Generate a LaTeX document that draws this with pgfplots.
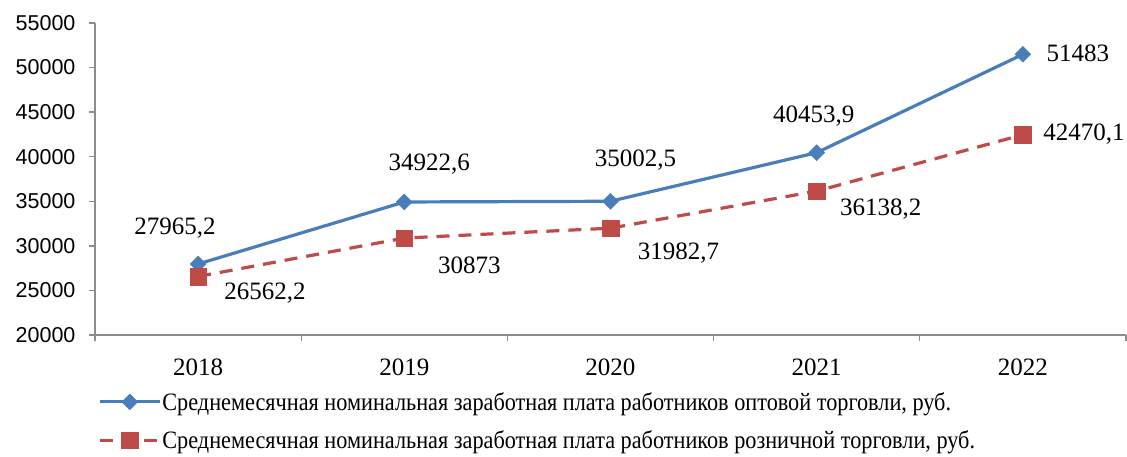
\documentclass[border=0pt]{standalone}
\usepackage{fontspec}
\setmainfont{Liberation Serif}
\newfontfamily\tickfont{Liberation Sans}
\newfontfamily\legfont[FakeStretch=0.89]{Liberation Serif}
\usepackage{pgfplots}
\usepackage{pgfplotstable}
\pgfplotsset{compat=1.18}
\definecolor{bluel}{HTML}{4A7EBB}
\definecolor{redl}{HTML}{BE4B48}
\definecolor{axgray}{HTML}{8C8C8C}

\pgfplotstableread{
x y lbl dx dy
0 27965.2 27965,2 -23 36
1 34922.6 34922,6 25 38
2 35002.5 35002,5 25 41
3 40453.9 40453,9 -3 37
4 51483 51483 55 1
}\opt
\pgfplotstableread{
x y lbl dx dy
0 26562.2 26562,2 67 -17
1 30873 30873 65 -27
2 31982.7 31982,7 68 -25
3 36138.2 36138,2 64 -18
4 42470.1 42470,1 61 1
}\roz

\begin{document}
\begin{tikzpicture}
\useasboundingbox (-95pt,-122pt) rectangle (1032pt,335pt);
\begin{axis}[
  scale only axis,
  width=1031pt, height=312pt,
  xmin=-0.5, xmax=4.5,
  ymin=20000, ymax=55000,
  ytick={20000,25000,...,55000},
  xtick={0,1,2,3,4},
  xticklabels={2018,2019,2020,2021,2022},
  minor xtick={-0.5,0.5,1.5,2.5,3.5,4.5},
  major x tick style={draw=none},
  minor tick length=6pt,
  major tick length=6pt,
  tick align=outside,
  axis lines*=left,
  axis line style={axgray, line width=1.3pt, -},
  every tick/.style={axgray, line width=1.3pt},
  scaled y ticks=false,
  yticklabel style={font=\tickfont\fontsize{21.5}{24}\selectfont, /pgf/number format/assume math mode=true, /pgf/number format/set thousands separator={}, xshift=-10pt},
  xticklabel style={font=\fontsize{25}{28}\selectfont, yshift=-14pt},
  clip=false,
  legend style={at={(rel axis cs:0,0)}, anchor=north west, xshift=3pt, yshift=-56pt, draw=none, fill=none,
    font=\legfont\fontsize{25}{28}\selectfont, row sep=17pt, inner sep=0pt,
    nodes={inner sep=1pt}},
  legend cell align=left,
  legend image code/.code={\draw[mark repeat=2,mark phase=2,#1] plot coordinates {(0pt,0pt) (30pt,0pt) (60pt,0pt)};},
  nodes near coords,
  point meta=explicit symbolic,
  visualization depends on={\thisrow{dx} \as \dx},
  visualization depends on={\thisrow{dy} \as \dy},
  nodes near coords style={anchor=center, xshift=\dx pt, yshift=\dy pt, text=black, font=\fontsize{25}{28}\selectfont},
]
\addplot[bluel, line width=3.2pt, mark=square*, mark size=5.6pt, mark options={solid, rotate=45, fill=bluel, draw=bluel, line width=0.5pt}]
  table[x=x, y=y, meta=lbl] {\opt};
\addlegendentry{Среднемесячная номинальная заработная плата работников оптовой торговли, руб.}
\addplot[redl, line width=3.2pt, dash pattern=on 13pt off 9pt, mark=square*, mark size=8.3pt, mark options={solid, fill=redl, draw=redl, line width=0.5pt}]
  table[x=x, y=y, meta=lbl] {\roz};
\addlegendentry{Среднемесячная номинальная заработная плата работников розничной торговли, руб.}
\end{axis}
\end{tikzpicture}
\end{document}
